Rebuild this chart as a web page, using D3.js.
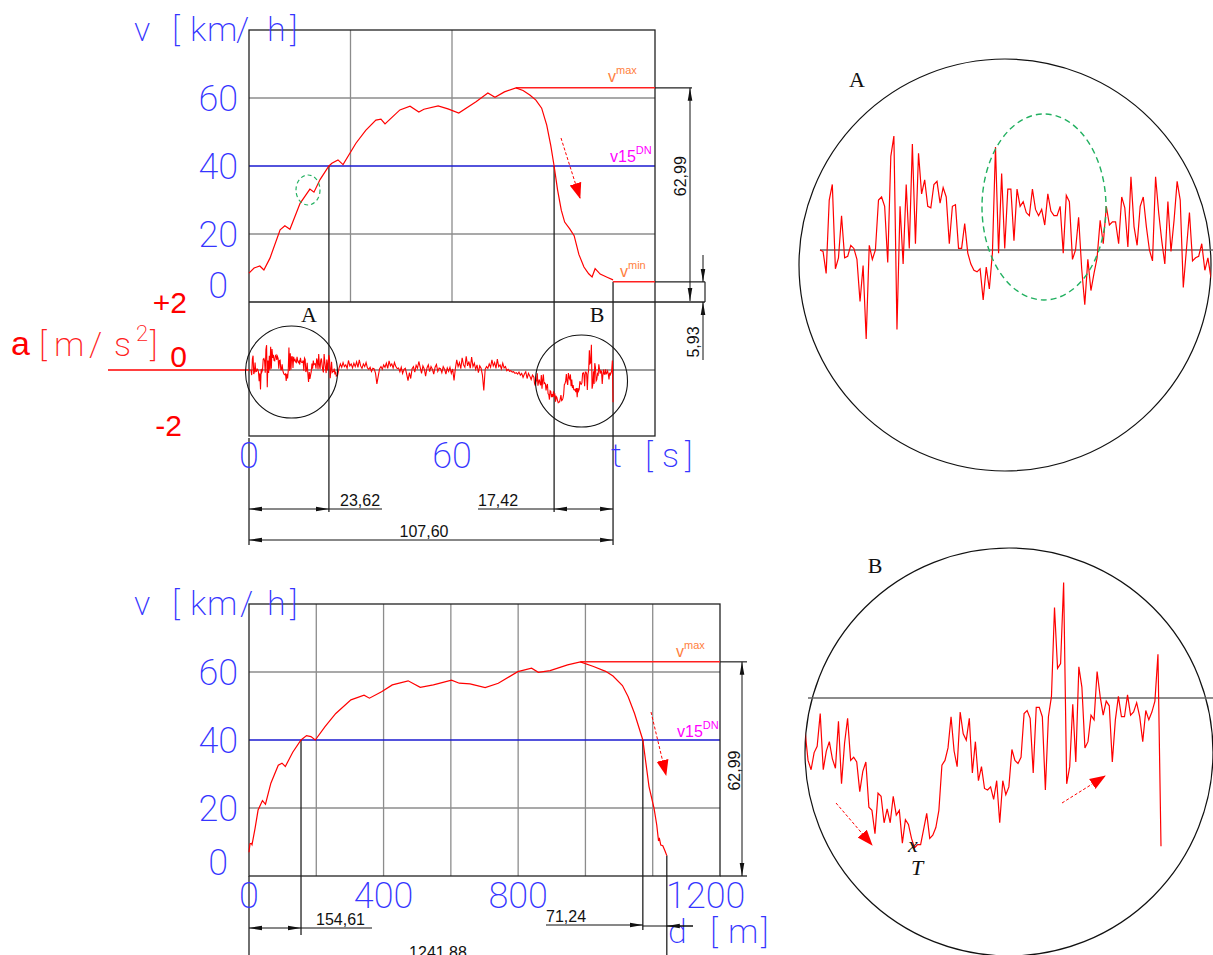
<!DOCTYPE html>
<html>
<head>
<meta charset="utf-8">
<script src="https://cdn.jsdelivr.net/npm/d3@7"></script>
<style>
  body { margin: 0; background: #fff; }
  svg { display: block; }
  .cad { font-family: Roboto, "DejaVu Sans", sans-serif; font-weight: 200; fill: #3535ff; }
  .red { font-family: "Liberation Sans", Arial, sans-serif; fill: #ff0000; }
  .dim { font-family: "Liberation Sans", Arial, sans-serif; font-size: 16px; fill: #111; }
  .ser { font-family: "Liberation Serif", "DejaVu Serif", serif; font-size: 22px; fill: #111; }
</style>
</head>
<body>
<svg id="chart" width="1213" height="955"></svg>
<script>
//#region data
// speed over time (top chart)
const tSec = [0, 1.5, 3.2, 4.4, 6.2, 9.2, 10.6, 12.1, 15.1, 18, 19.2, 21, 23.62, 24.5, 26.3, 27.8, 31.6, 34.5, 37.5, 39, 40.2, 44.6, 47.6, 50.2, 51.7, 55.9, 58.8, 62, 67.1, 70.6, 72.7, 75.5, 78.9, 81, 83, 84.8, 86.5, 88, 89.2, 90.18, 91.2, 92.3, 93.3, 94.8, 96.1, 97.5, 99, 100.4, 101.4, 102.3, 103.8, 106, 107.6];
const vSec = [8.5, 10, 10.6, 9.4, 12.9, 21.2, 22.4, 21.4, 29, 33.2, 32.3, 36, 40, 40.8, 41.8, 40.4, 46.7, 50.5, 53.5, 53.8, 52.4, 56.5, 57.6, 55.9, 56.7, 57.7, 56.8, 55.6, 58.9, 61.5, 60.2, 61.8, 62.99, 62.2, 60.9, 59.4, 57, 52, 46, 40, 33, 27, 23.5, 21.5, 19.5, 14, 10.3, 8.3, 7.4, 9.8, 8.2, 7.2, 6.5];

// speed over distance (bottom chart)
const dMet = [0, 3, 7, 9, 18, 27, 40, 49, 65, 87, 98, 108, 130, 154.61, 171, 184, 197, 226, 258, 303, 342, 358, 394, 426, 473, 509, 548, 602, 625, 657, 702, 741, 799, 840, 860, 895, 947, 985, 1024, 1060, 1082, 1110, 1127, 1146, 1170.64, 1189, 1204, 1212, 1217, 1220, 1224, 1230, 1236, 1241.88];
const vMet = [7, 9.5, 9.6, 9.2, 14, 19.4, 22.2, 21.1, 27.3, 32.6, 33.2, 32.2, 36.4, 40, 41.3, 41, 40, 43.9, 47.8, 51.8, 53.2, 52.3, 54.2, 56.2, 57.4, 55.5, 56.2, 57.6, 56.7, 56.5, 55.4, 56.7, 60.1, 61.1, 59.9, 60.4, 62.1, 62.99, 61.6, 60.2, 58.8, 56, 52.7, 47.8, 40, 26.3, 19.9, 15, 10.6, 11, 9.1, 8.9, 7.5, 6];

// acceleration samples [m/s2]
const aStep = 0.2, aStartA = 0.4;           // zone A, every 0.2 s
const accA = [0, -0.01, -0.15, 0.32, 0.42, -0.12, -0.05, 0.22, -0.05, -0.04,
  0.03, 0.01, -0.06, -0.33, -0.10, -0.57, 0.03, -0.06, 0.00, 0.32,
  0.34, 0.28, -0.08, 0.60, 0.73, -0.51, 0.28, -0.09, 0.42, 0.01,
  0.68, 0.04, 0.62, 0.36, 0.45, 0.28, 0.27, 0.42, 0.44, 0.30,
  0.40, 0.34, 0.04, 0.28, 0.29, 0.01, 0.01, 0.17, -0.02, -0.09,
  -0.13, -0.14, -0.12, -0.32, -0.11, -0.25, -0.02, 0.66, -0.02, 0.49,
  0.01, 0.39, 0.39, 0.06, 0.39, 0.28, 0.31, 0.24, 0.22, 0.39,
  0.26, 0.22, 0.26, 0.16, 0.36, 0.25, 0.22, 0.22, 0.28, -0.02,
  0.35, 0.31, -0.06, 0.00, 0.21, -0.12, -0.35, -0.06, -0.26, -0.15,
  -0.05, 0.19, 0.04, 0.28, 0.16, 0.18, 0.18, 0.04, 0.34, 0.27,
  0.02, 0.47, 0.15, 0.03, 0.28, 0.34, 0.15, 0.00, -0.07, 0.47,
  0.24, 0.06, -0.09, 0.31, -0.01, 0.19, 0.44, 0.32, -0.24, 0.00,
  0.24, -0.07, -0.05, -0.04, 0.04, -0.13, -0.05, -0.18];
const midStep = 0.4, midStart = 26.2;       // cruise, every 0.4 s
const accMid = [-0.15, 0.05, 0.18, 0.08, 0.22, 0.10,
  0.15, 0.05, 0.28, 0.12, 0.18, 0.06, 0.20, 0.10, 0.24, 0.08, 0.30, 0.12, 0.05, 0.18, 0.10, 0.22,
  0.06, 0.02, 0.08, -0.04, 0.05, 0.03, -0.10, -0.41,
  -0.18, 0.04, 0.10, 0.02, 0.15, 0.08, 0.20, 0.05, 0.27, 0.12, 0.18, 0.06, 0.22, 0.10, 0.04,
  0.06, -0.05, 0.08, -0.10, 0.02, 0.05, -0.12,
  -0.31, -0.08, -0.25, 0.04,
  0.10, -0.06, 0.14, 0.05, 0.25, 0.08, -0.10, 0.12, 0.03, -0.18, 0.06, 0.15, -0.05, 0.10, 0.02, -0.12, 0.08, 0.16, -0.04, 0.06,
  0.04, -0.08, 0.10, 0.02, -0.12, 0.06, -0.04, 0.08, -0.10, 0.03, -0.31,
  0.05, 0.30, 0.10, 0.22, 0.04, 0.36, 0.15, 0.08, 0.40, 0.12, 0.25, 0.05, 0.38, 0.10, 0.20, 0.02, 0.15, -0.08, 0.12, 0.05,
  -0.15, -0.60, 0.02, 0.10, 0.05,
  0.18, 0.08, 0.30, 0.12, 0.22, 0.05, 0.32, 0.10, 0.15, 0.03, 0.20, 0.06, 0.10, -0.02,
  0.02, -0.04, -0.02, -0.06, -0.05, -0.10, -0.08, -0.12, -0.06, -0.15, -0.10, -0.22, -0.12, -0.05, -0.25, -0.10, -0.18, -0.28, -0.15];
const accB = [-0.21, -0.40, -0.46, -0.35, -0.31, -0.10, -0.46, -0.34, -0.28, -0.39,
  -0.45, -0.15, -0.55, -0.29, -0.13, -0.40, -0.38, -0.41, -0.60, -0.47,
  -0.41, -0.70, -0.72, -0.87, -0.61, -0.63, -0.80, -0.71, -0.80, -0.63,
  -0.75, -0.72, -0.93, -0.78, -0.81, -0.90, -0.96, -0.94, -0.94, -0.84,
  -0.74, -0.90, -0.88, -0.83, -0.72, -0.43, -0.40, -0.32, -0.12, -0.34,
  -0.44, -0.09, -0.23, -0.27, -0.13, -0.48, -0.28, -0.53, -0.44, -0.58,
  -0.59, -0.57, -0.65, -0.53, -0.80, -0.53, -0.62, -0.57, -0.33, -0.40,
  -0.42, -0.38, -0.10, -0.08, -0.13, -0.48, -0.06, -0.06, -0.12, -0.59,
  -0.12, 0.01, 0.58, 0.19, 0.22, 0.74, -0.55, -0.44, -0.04, -0.41,
  0.20, 0.07, -0.32, -0.28, -0.11, -0.14, 0.17, 0.01, -0.11, -0.02,
  -0.05, -0.41, -0.14, 0.01, -0.12, -0.12, 0.02, -0.11, -0.09, -0.03,
  -0.12, -0.28, -0.08, -0.14, -0.09, -0.02, 0.28, -0.95];

// ticks
const vTicks = [0, 20, 40, 60];
const tTicks = [0, 60];
const dTicks = [0, 400, 800, 1200];
const aTicks = [2, 0, -2];
const aTickText = ['+2', '0', '-2'];

// dimensions
const vMax = 62.99, vMin = 5.93, v15 = 40;
const tTo15 = 23.62, tFrom15 = 17.42, tTotal = 107.60;
const dTo15 = 154.61, dFrom15 = 71.24, dTotal = 1241.88;
//#endregion

//#region scales
const svg = d3.select('#chart');
const xT = d3.scaleLinear().domain([0, 120]).range([249, 655]);
const yV = d3.scaleLinear().domain([0, 80]).range([302, 30]);
const yA = d3.scaleLinear().domain([-2, 2]).range([438, 302]);
const xD = d3.scaleLinear().domain([0, 1400]).range([249, 720]);
const yV2 = d3.scaleLinear().domain([0, 80]).range([876, 604]);
// magnified views
const xZA = d3.scaleLinear().domain([0.4, 25.8]).range([820, 1211]);
const yZA = d3.scaleLinear().domain([-1, 1]).range([250 + 156, 250 - 156]);
const xZB = d3.scaleLinear().domain([84.2, 107.6]).range([805, 1161]);
const yZB = d3.scaleLinear().domain([-1, 1]).range([698 + 156, 698 - 156]);
//#endregion

const aStartB = tTotal - (accB.length - 1) * aStep;
const seriesA = accA.map((a, i) => [aStartA + i * aStep, a]);
const seriesMid = accMid.map((a, i) => [midStart + i * midStep, a]);
const seriesB = accB.map((a, i) => [aStartB + i * aStep, a]);
const accAll = seriesA.concat(seriesMid, seriesB);

//#region markers
const defs = svg.append('defs');
defs.append('marker').attr('id', 'arr')
  .attr('viewBox', '0 -3 13 6').attr('refX', 13).attr('refY', 0)
  .attr('markerWidth', 13).attr('markerHeight', 6)
  .attr('markerUnits', 'userSpaceOnUse').attr('orient', 'auto-start-reverse')
  .append('path').attr('d', 'M0,-2.3L13,0L0,2.3Z').attr('fill', '#111');
defs.append('marker').attr('id', 'redarr')
  .attr('viewBox', '0 -7 16 14').attr('refX', 15).attr('refY', 0)
  .attr('markerWidth', 16).attr('markerHeight', 14)
  .attr('markerUnits', 'userSpaceOnUse').attr('orient', 'auto')
  .append('path').attr('d', 'M0,-6L16,0L0,6Z').attr('fill', '#ff0000');
defs.append('clipPath').attr('id', 'clipA')
  .append('circle').attr('cx', 1005).attr('cy', 265).attr('r', 206);
defs.append('clipPath').attr('id', 'clipB')
  .append('circle').attr('cx', 1009).attr('cy', 752).attr('r', 204);
//#endregion

function line(x1, y1, x2, y2, color, w) {
  return svg.append('line').attr('x1', x1).attr('y1', y1).attr('x2', x2).attr('y2', y2)
    .attr('stroke', color || '#111').attr('stroke-width', w || 1);
}
function dimLine(x1, y1, x2, y2, both) {
  const l = line(x1, y1, x2, y2, '#111', 1).attr('marker-end', 'url(#arr)');
  if (both) l.attr('marker-start', 'url(#arr)');
  return l;
}
function redArrow(x1, y1, x2, y2) {
  line(x1, y1, x2, y2, '#ff0000', 1).attr('stroke-dasharray', '3,2').attr('marker-end', 'url(#redarr)');
}
function supLabel(x, y, base, sup, color) {
  const t = svg.append('text').attr('x', x).attr('y', y)
    .attr('font-family', 'Liberation Sans, Arial, sans-serif').attr('font-size', 16).attr('fill', color);
  t.append('tspan').text(base);
  t.append('tspan').attr('dy', -8).attr('font-size', 11).text(sup);
}
// CAD-like unit label, one x per character
function unitLabel(xs, y, str, size) {
  svg.append('text').attr('class', 'cad').attr('font-size', size)
    .attr('x', xs.join(' ')).attr('y', y).text(str);
}

//#region top chart: v(t) and a(t)
const gridCol = '#8c8c8c';
vTicks.filter(v => v !== 0 && v !== v15).forEach(v => line(xT(0), yV(v), xT(120), yV(v), gridCol, 1.3));
[30, 60].forEach(t => line(xT(t), yV(80), xT(t), yV(0), gridCol, 1.3));
line(xT(0), yA(0), xT(120), yA(0), '#7a7a7a', 1.5);
line(xT(0), yV(v15), xT(120), yV(v15), '#1a1ad0', 1.4);

svg.append('rect').attr('x', xT(0)).attr('y', yV(80))
  .attr('width', xT(120) - xT(0)).attr('height', yA(-2) - yV(80) - 2)
  .attr('fill', 'none').attr('stroke', '#222').attr('stroke-width', 1.3);
line(xT(0), yV(0), 705, yV(0), '#222', 1.3);

// markers for v15 and end
line(xT(tTo15), yV(v15), xT(tTo15), 512, '#222', 1.3);
line(xT(tTotal - tFrom15), yV(v15), xT(tTotal - tFrom15), 512, '#222', 1.3);
line(xT(tTotal), yV(vMin), xT(tTotal), 545, '#222', 1.3);
line(xT(0), yA(-2), xT(0), 545, '#222', 1.3);

// vmax / vmin levels
line(xT(78.9), yV(vMax), xT(120), yV(vMax), '#ff2020', 1.5);
line(xT(120), yV(vMax), 692, yV(vMax), '#222', 1.2);
line(xT(tTotal), yV(vMin), xT(120), yV(vMin), '#ff2020', 1.5);
line(xT(120), yV(vMin), 705, yV(vMin), '#222', 1.2);
line(705, yV(vMin), 705, yV(0), '#222', 1.2);
dimLine(690, yV(30), 690, yV(vMax)); dimLine(690, yV(30), 690, yV(0) - 1);
dimLine(703, 255, 703, yV(vMin)); dimLine(703, 360, 703, yV(0));
svg.append('text').attr('class', 'dim').attr('text-anchor', 'middle')
  .attr('transform', `translate(686,${yV(37)}) rotate(-90)`).text('62,99');
svg.append('text').attr('class', 'dim').attr('text-anchor', 'middle')
  .attr('transform', 'translate(699,342) rotate(-90)').text('5,93');

// velocity trace
svg.append('path').datum(tSec.map((t, i) => [t, vSec[i]]))
  .attr('d', d3.line().x(d => xT(d[0])).y(d => yV(d[1])))
  .attr('fill', 'none').attr('stroke', '#ff0000').attr('stroke-width', 1.2);

// acceleration trace
line(108, yA(0), xT(0), yA(0), '#ff0000', 1.3);
svg.append('path').datum(accAll)
  .attr('d', d3.line().x(d => xT(d[0])).y(d => yA(d[1])))
  .attr('fill', 'none').attr('stroke', '#ff0000').attr('stroke-width', 1.1);

// zoom circles
svg.append('circle').attr('cx', 291.5).attr('cy', 372).attr('r', 46)
  .attr('fill', 'none').attr('stroke', '#111').attr('stroke-width', 1.1);
svg.append('circle').attr('cx', 581.5).attr('cy', 381).attr('r', 46)
  .attr('fill', 'none').attr('stroke', '#111').attr('stroke-width', 1.1);
svg.append('text').attr('class', 'ser').attr('x', 309).attr('y', 322).attr('text-anchor', 'middle').text('A');
svg.append('text').attr('class', 'ser').attr('x', 597).attr('y', 322).attr('text-anchor', 'middle').text('B');
svg.append('ellipse').attr('cx', 308).attr('cy', 190).attr('rx', 12).attr('ry', 15)
  .attr('fill', 'none').attr('stroke', '#22b060').attr('stroke-width', 1.2).attr('stroke-dasharray', '4,3');
redArrow(561, 138, 580, 198);

// labels
supLabel(608, 82, 'v', 'max', '#ff8040');
supLabel(610, 162, 'v15', 'DN', '#ff00ff');
supLabel(620, 277, 'v', 'min', '#ff8040');

svg.selectAll('.ytop').data(vTicks).enter().append('text')
  .attr('class', 'cad').attr('font-size', 36).attr('text-anchor', 'end')
  .attr('x', d => d === 0 ? 228 : 238).attr('y', d => yV(d) + (d === 0 ? -4 : 13)).text(d => d);
svg.selectAll('.xtop').data(tTicks).enter().append('text')
  .attr('class', 'cad').attr('font-size', 36).attr('text-anchor', 'middle')
  .attr('x', d => xT(d)).attr('y', 468).text(d => d);
unitLabel([134, 160, 172, 190, 207, 236, 267, 290], 41, 'v [km/h]', 34);
unitLabel([611, 630, 645, 662, 685], 467, 't [s]', 34);

svg.selectAll('.atick').data(aTicks).enter().append('text')
  .attr('class', 'red').attr('font-size', 30).attr('text-anchor', 'end')
  .attr('x', d => d < 0 ? 182 : 187)
  .attr('y', d => d === 0 ? 367 : (d > 0 ? 313 : 436)).text((d, i) => aTickText[i]);
svg.append('text').attr('class', 'red').attr('font-size', 34).attr('x', 11).attr('y', 355).text('a');
const aUnit = svg.append('text').attr('class', 'cad').attr('font-size', 34)
  .style('fill', '#ff2020').attr('y', 356);
aUnit.append('tspan').attr('x', '39 54 89 114').text('[m/s');
aUnit.append('tspan').attr('x', 136).attr('dy', -15).attr('font-size', 22).text('2');
aUnit.append('tspan').attr('x', 150).attr('dy', 15).text(']');

// time dimensions
dimLine(xT(0), 509, xT(tTo15), 509, true);
line(xT(tTo15), 509, 382, 509, '#111', 1);
svg.append('text').attr('class', 'dim').attr('x', 340).attr('y', 506).text('23,62');
dimLine(xT(tTotal - tFrom15), 509, xT(tTotal), 509, true);
line(478, 509, xT(tTotal - tFrom15), 509, '#111', 1);
svg.append('text').attr('class', 'dim').attr('x', 478).attr('y', 506).text('17,42');
dimLine(xT(0), 540, xT(tTotal), 540, true);
svg.append('text').attr('class', 'dim').attr('x', 424).attr('y', 537).attr('text-anchor', 'middle').text('107,60');
//#endregion

//#region bottom chart: v(d)
[200, 400, 600, 800, 1000, 1200].forEach(d => line(xD(d), yV2(80), xD(d), yV2(0), gridCol, 1.3));
vTicks.filter(v => v !== 0 && v !== v15).forEach(v => line(xD(0), yV2(v), xD(1400), yV2(v), gridCol, 1.3));
line(xD(0), yV2(v15), xD(1400), yV2(v15), '#1a1ad0', 1.4);
svg.append('rect').attr('x', xD(0)).attr('y', yV2(80))
  .attr('width', xD(1400) - xD(0)).attr('height', yV2(0) - yV2(80))
  .attr('fill', 'none').attr('stroke', '#222').attr('stroke-width', 1.3);
line(xD(1400), yV2(0), 747, yV2(0), '#222', 1.3);
line(xD(0), yV2(0), xD(0), 955, '#222', 1.3);
line(xD(dTo15), yV2(v15), xD(dTo15), 935, '#222', 1.3);
line(xD(dTotal - dFrom15), yV2(v15), xD(dTotal - dFrom15), 930, '#222', 1.3);
line(xD(dTotal), yV2(6), xD(dTotal), 955, '#222', 1.3);

line(xD(985), yV2(vMax), xD(1400), yV2(vMax), '#ff2020', 1.5);
line(xD(1400), yV2(vMax), 747, yV2(vMax), '#222', 1.2);
dimLine(742, yV2(30), 742, yV2(vMax)); dimLine(742, yV2(30), 742, yV2(0));
svg.append('text').attr('class', 'dim').attr('text-anchor', 'middle')
  .attr('transform', `translate(740,${yV2(31)}) rotate(-90)`).text('62,99');

svg.append('path').datum(dMet.map((d, i) => [d, vMet[i]]))
  .attr('d', d3.line().x(d => xD(d[0])).y(d => yV2(d[1])))
  .attr('fill', 'none').attr('stroke', '#ff0000').attr('stroke-width', 1.2);

redArrow(651, 712, 666, 775);
supLabel(676, 657, 'v', 'max', '#ff8040');
supLabel(677, 737, 'v15', 'DN', '#ff00ff');

svg.selectAll('.ybot').data(vTicks).enter().append('text')
  .attr('class', 'cad').attr('font-size', 36).attr('text-anchor', 'end')
  .attr('x', d => d === 0 ? 228 : 238).attr('y', d => yV2(d) + (d === 0 ? -1 : 13)).text(d => d);
svg.selectAll('.xbot').data(dTicks).enter().append('text')
  .attr('class', 'cad').attr('font-size', 36).attr('text-anchor', 'middle')
  .attr('x', d => xD(d) + (d === 1200 ? 53 : 0)).attr('y', 908).text(d => d);
unitLabel([134, 160, 172, 190, 207, 240, 267, 290], 615, 'v [km/h]', 34);
unitLabel([668, 692, 710, 728, 761], 943, 'd [m]', 34);

dimLine(xD(0), 928, xD(dTo15), 928, true);
line(xD(dTo15), 928, 372, 928, '#111', 1);
svg.append('text').attr('class', 'dim').attr('x', 316).attr('y', 925).text('154,61');
dimLine(546, 925, xD(dTotal - dFrom15), 925);
svg.append('text').attr('class', 'dim').attr('x', 546).attr('y', 922).text('71,24');
line(xD(dTotal - dFrom15), 926, 693, 926, '#111', 1);
dimLine(693, 926, xD(dTotal), 926);
svg.append('text').attr('class', 'dim').attr('x', 438).attr('y', 958).attr('text-anchor', 'middle').text('1241,88');
//#endregion

//#region magnified A and B
svg.append('circle').attr('cx', 1005).attr('cy', 265).attr('r', 206)
  .attr('fill', 'none').attr('stroke', '#111').attr('stroke-width', 1.2);
svg.append('text').attr('class', 'ser').attr('x', 857).attr('y', 87).attr('text-anchor', 'middle').text('A');
line(820, yZA(0), 1213, yZA(0), '#666', 1.6);
svg.append('path').datum(seriesA).attr('clip-path', 'url(#clipA)')
  .attr('d', d3.line().x(d => xZA(d[0])).y(d => yZA(d[1])))
  .attr('fill', 'none').attr('stroke', '#ff0000').attr('stroke-width', 1.2);
svg.append('ellipse').attr('cx', 1044).attr('cy', 207).attr('rx', 62).attr('ry', 93)
  .attr('fill', 'none').attr('stroke', '#22b060').attr('stroke-width', 1.4).attr('stroke-dasharray', '6,4');

svg.append('circle').attr('cx', 1009).attr('cy', 752).attr('r', 204)
  .attr('fill', 'none').attr('stroke', '#111').attr('stroke-width', 1.2);
svg.append('text').attr('class', 'ser').attr('x', 875).attr('y', 573).attr('text-anchor', 'middle').text('B');
line(808, yZB(0), 1213, yZB(0), '#666', 1.6);
svg.append('path').datum(seriesB).attr('clip-path', 'url(#clipB)')
  .attr('d', d3.line().x(d => xZB(d[0])).y(d => yZB(d[1])))
  .attr('fill', 'none').attr('stroke', '#ff0000').attr('stroke-width', 1.2);
redArrow(836, 803, 872, 845);
redArrow(1062, 803, 1105, 776);
svg.append('text').attr('class', 'ser').attr('font-size', 14).attr('font-style', 'italic')
  .attr('x', 913).attr('y', 852).attr('text-anchor', 'middle').text('x');
svg.append('text').attr('class', 'ser').attr('font-style', 'italic')
  .attr('x', 917).attr('y', 875).attr('text-anchor', 'middle').text('T');
//#endregion
</script>
</body>
</html>
